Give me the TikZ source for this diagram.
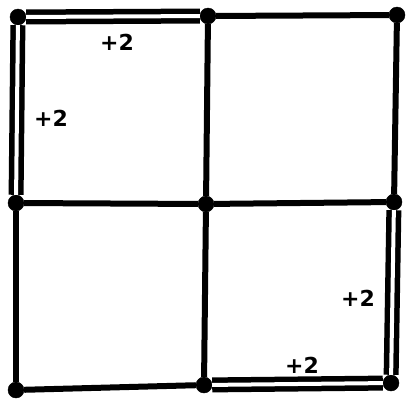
\documentclass[tikz,border=0pt]{standalone}
\usepackage{tikz}
\usepackage{fontspec}
\usetikzlibrary{positioning}
\newfontfamily\labelfont{DejaVu Sans}

\begin{document}
\begin{tikzpicture}[x=1pt, y=-1pt,
    vtx/.style={circle, fill=black, draw=black, minimum size=16pt, inner sep=0pt},
    edge/.style={line width=6pt},
    dbl/.style={line width=5.5pt, double=white, double distance=4pt},
    lbl/.style={font=\labelfont\bfseries\fontsize{22}{22}\selectfont}]
  \useasboundingbox (0,0) rectangle (407,410);
  % grid points
  \node[vtx] (tl) at (18,17) {};
  \node[vtx] (tm) at (208,16) {};
  \node[vtx] (tr) at (397,15) {};
  \node[vtx] (ml) at (16,203) {};
  \node[vtx] (mc) at (206,204) {};
  \node[vtx] (mr) at (394,202) {};
  \node[vtx] (bl) at (16,390) {};
  \node[vtx] (bm) at (204,385) {};
  \node[vtx] (br) at (391,383) {};

  % single edges
  \draw[edge] (tm) -- (tr);
  \draw[edge] (tm) -- (mc);
  \draw[edge] (tr) -- (mr);
  \draw[edge] (ml) -- (mc);
  \draw[edge] (mc) -- (mr);
  \draw[edge] (ml) -- (bl);
  \draw[edge] (mc) -- (bm);
  \draw[edge] (bl) -- (bm);

  % doubled edges
  \draw[dbl] (tl) -- (tm);
  \draw[dbl] (tl) -- (ml);
  \draw[dbl] (bm) -- (br);
  \draw[dbl] (mr) -- (br);

  \node[lbl] (w1) at (117,42) {+2};
  \node[lbl] (w2) at (51,118) {+2};
  \node[lbl] (w3) at (358,298) {+2};
  \node[lbl] (w4) at (302,365) {+2};
\end{tikzpicture}
\end{document}
